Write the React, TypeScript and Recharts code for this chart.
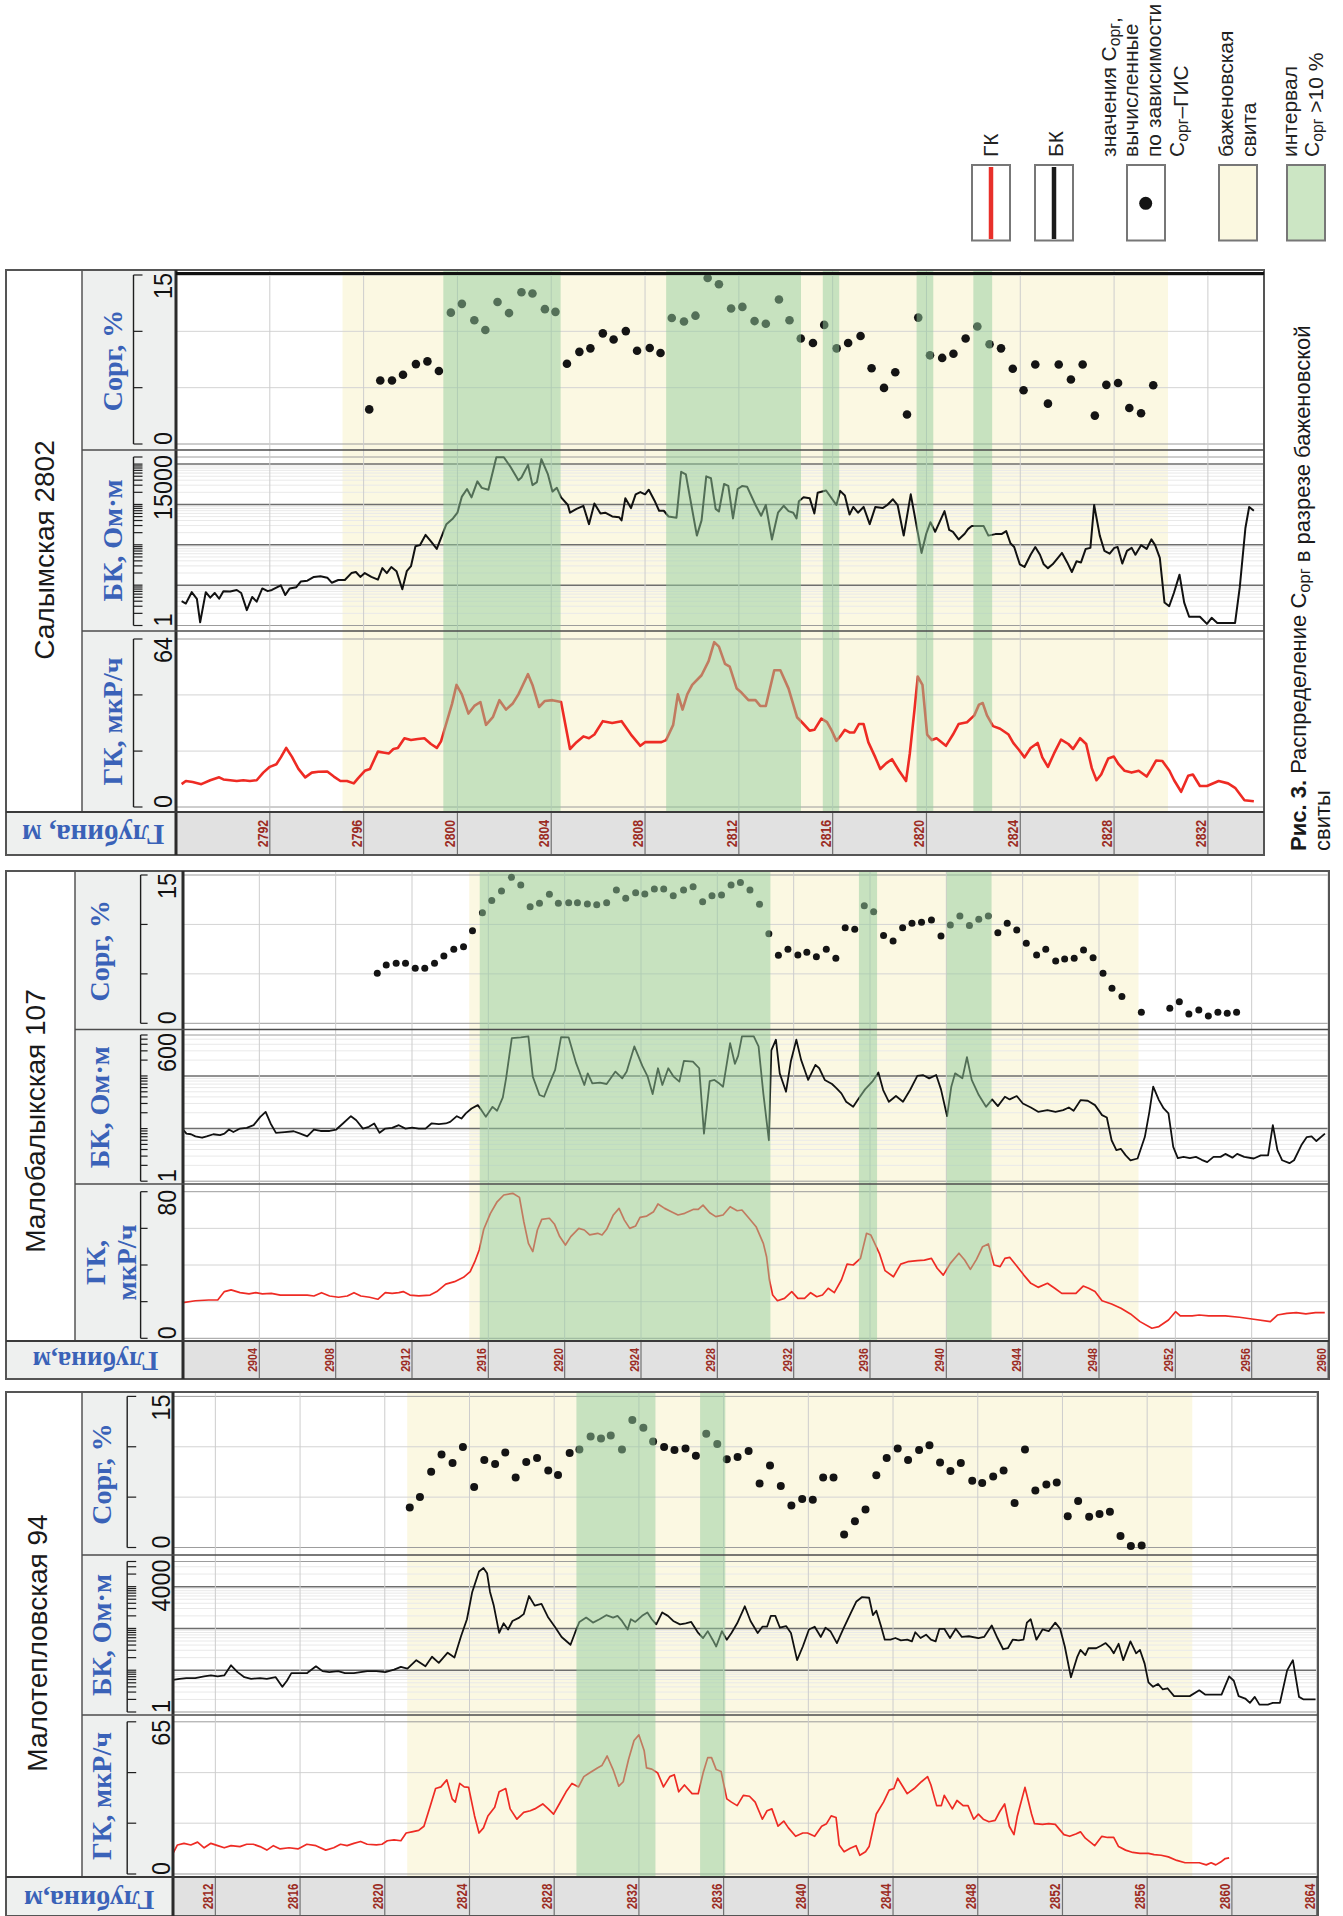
import React from "react";
import {
  Line,
  LineChart,
  ReferenceArea,
  ReferenceLine,
  Scatter,
  ScatterChart,
  XAxis,
  YAxis,
} from "recharts";

type Pt = [number, number]; // [depth, value]
type Rows = [number, number, number, number]; // track top, track bottom, y of max, y of min

const BLUE = "#3a62b8";
const SERIF = "'Liberation Serif', 'Times New Roman', serif";
const SANS = "'Liberation Sans', Arial, sans-serif";
const YELLOW = "#fbf8e2";
const GREEN = "rgb(148,204,156)";

// ---------- Салымская 2802 ----------
const salymDepthTicks = [2792, 2796, 2800, 2804, 2808, 2812, 2816, 2820, 2824, 2828, 2832];
const salymBazhenov: Pt = [2795.1, 2830.3];
const salymRich: Pt[] = [[2799.4, 2804.4], [2808.9, 2814.65], [2815.58, 2816.28], [2819.58, 2820.29], [2822.0, 2822.8]];
const salymCorg: Pt[] = [
  [2796.24, 3.07], [2796.71, 5.63], [2797.21, 5.63], [2797.68, 6.14], [2798.23, 7.09], [2798.72, 7.33], [2799.21, 6.48],
  [2799.72, 11.66], [2800.19, 12.44], [2800.72, 10.98], [2801.19, 10.12], [2801.71, 12.61], [2802.2, 11.62], [2802.73, 13.47],
  [2803.2, 13.36], [2803.73, 11.97], [2804.18, 11.73], [2804.67, 7.12], [2805.2, 8.18], [2805.67, 8.49], [2806.2, 9.82],
  [2806.66, 9.27], [2807.18, 10.02], [2807.66, 8.28], [2808.2, 8.52], [2808.66, 8.08], [2809.14, 11.18], [2809.66, 10.87],
  [2810.15, 11.39], [2810.67, 14.73], [2811.15, 14.18], [2811.67, 12.03], [2812.15, 12.17], [2812.67, 10.91], [2813.15, 10.67],
  [2813.71, 12.82], [2814.16, 10.98], [2814.64, 9.37], [2815.16, 8.97], [2815.64, 10.57], [2816.17, 8.49], [2816.66, 8.97],
  [2817.19, 9.58], [2817.66, 6.72], [2818.19, 4.98], [2818.67, 6.37], [2819.17, 2.62], [2819.65, 11.22], [2820.15, 7.87],
  [2820.67, 7.64], [2821.15, 8.01], [2821.67, 9.37], [2822.17, 10.43], [2822.69, 8.86], [2823.18, 8.49], [2823.68, 6.68],
  [2824.14, 4.77], [2824.64, 7.06], [2825.18, 3.58], [2825.64, 7.06], [2826.16, 5.73], [2826.66, 7.06], [2827.18, 2.52],
  [2827.67, 5.25], [2828.17, 5.42], [2828.65, 3.2], [2829.15, 2.73], [2829.67, 5.22],
];
const salymBk: Pt[] = [
  [2788.24, 4.0], [2788.42, 3.5], [2788.67, 6.7], [2788.89, 4.6], [2789.03, 1.2], [2789.27, 6.7], [2789.46, 4.9], [2789.65, 6.4],
  [2789.84, 4.6], [2790.02, 7.1], [2790.31, 7.0], [2790.59, 7.6], [2790.78, 6.4], [2791.02, 2.4], [2791.25, 5.1], [2791.44, 3.9],
  [2791.68, 8.3], [2791.91, 7.1], [2792.09, 7.6], [2792.47, 9.9], [2792.66, 5.7], [2792.85, 8.3], [2793.13, 8.9], [2793.32, 12.3],
  [2793.6, 12.9], [2793.88, 16], [2794.16, 16.7], [2794.45, 15.3], [2794.64, 11.5], [2794.92, 13.4], [2795.2, 13.4], [2795.48, 19.9],
  [2795.67, 21.2], [2795.86, 16], [2796.05, 19.9], [2796.33, 16], [2796.61, 13.7], [2796.8, 26.4], [2796.99, 19.9], [2797.18, 28.2],
  [2797.4, 22.2], [2797.65, 7.9], [2797.84, 22.2], [2798.02, 29.5], [2798.21, 91.6], [2798.4, 98], [2798.64, 176], [2798.87, 122],
  [2799.12, 79], [2799.34, 169], [2799.53, 325], [2799.81, 451], [2800.0, 625], [2800.19, 1565], [2800.41, 2420], [2800.6, 1500],
  [2800.85, 3740], [2801.04, 2580], [2801.32, 2320], [2801.66, 14800], [2801.98, 14800], [2802.26, 8590], [2802.6, 4000],
  [2802.73, 4660], [2803.01, 9570], [2803.2, 3010], [2803.39, 3590], [2803.58, 13300], [2803.86, 5550], [2804.05, 2080],
  [2804.24, 2580], [2804.42, 1500], [2804.71, 968], [2804.8, 625], [2805.08, 778], [2805.37, 926], [2805.61, 325], [2805.84, 1057],
  [2806.1, 598], [2806.3, 625], [2806.6, 503], [2806.9, 481], [2807.0, 404], [2807.16, 1433], [2807.4, 813], [2807.6, 1783],
  [2807.8, 2032], [2808.0, 1783], [2808.16, 2320], [2808.4, 1259], [2808.6, 698], [2808.8, 698], [2809.0, 503], [2809.34, 471],
  [2809.54, 6460], [2809.74, 5550], [2810.21, 169], [2810.41, 404], [2810.61, 4980], [2810.81, 4460], [2811.01, 778],
  [2811.15, 668], [2811.37, 3210], [2811.55, 2880], [2811.75, 451], [2811.95, 2420], [2812.15, 2880], [2812.35, 2760],
  [2812.71, 968], [2812.95, 525], [2813.15, 968], [2813.41, 136], [2813.67, 625], [2813.91, 926], [2814.12, 683], [2814.32, 625],
  [2814.46, 451], [2814.56, 1205], [2814.76, 1500], [2815.02, 1433], [2815.22, 598], [2815.36, 1945], [2815.72, 2220],
  [2816.16, 968], [2816.32, 2170], [2816.52, 1670], [2816.72, 561], [2816.88, 868], [2817.08, 625], [2817.32, 868], [2817.58, 325],
  [2817.82, 868], [2818.13, 813], [2818.33, 968], [2818.57, 1343], [2818.77, 968], [2819.03, 169], [2819.33, 1783], [2819.79, 63],
  [2819.99, 188], [2820.17, 363], [2820.37, 210], [2820.77, 683], [2820.97, 234], [2821.13, 210], [2821.37, 136], [2821.63, 188],
  [2821.77, 245], [2821.93, 291], [2822.24, 291], [2822.44, 291], [2822.64, 169], [2822.94, 184], [2823.2, 184], [2823.4, 219],
  [2823.58, 109], [2823.74, 88], [2823.98, 32.9], [2824.18, 28.2], [2824.44, 56.7], [2824.64, 88], [2824.84, 56.7], [2825.0, 32.9],
  [2825.18, 26.4], [2825.38, 32.9], [2825.78, 63], [2826.0, 36.6], [2826.2, 21.2], [2826.4, 39.1], [2826.59, 36.6], [2826.79, 79],
  [2826.99, 84], [2827.15, 968], [2827.39, 169], [2827.59, 70.5], [2827.81, 60.5], [2828.01, 84], [2828.15, 88], [2828.35, 34.3],
  [2828.55, 70.5], [2828.75, 84], [2828.91, 56.7], [2829.15, 98], [2829.39, 79], [2829.59, 136], [2829.75, 98], [2829.95, 47.6],
  [2830.15, 3.7], [2830.35, 3.0], [2830.55, 6.4], [2830.79, 18.2], [2830.99, 3.7], [2831.2, 1.65], [2831.66, 1.65], [2831.96, 1.1],
  [2832.16, 1.55], [2832.4, 1.16], [2833.16, 1.16], [2833.36, 8.9], [2833.6, 261], [2833.76, 868], [2833.96, 698],
];
const salymGk: Pt[] = [
  [2788.24, 8.7], [2788.42, 9.9], [2788.71, 9.5], [2789.08, 8.7], [2789.46, 10.2], [2789.84, 11.3], [2790.02, 10.5], [2790.31, 10.2],
  [2790.59, 9.9], [2790.87, 10.2], [2791.15, 9.9], [2791.44, 10.2], [2791.72, 13.1], [2792.0, 15.3], [2792.28, 16.3], [2792.47, 18.9],
  [2792.7, 22.5], [2792.94, 19.2], [2793.22, 14.5], [2793.51, 11.3], [2793.79, 13.1], [2794.07, 13.4], [2794.45, 13.5], [2794.73, 11.6],
  [2795.01, 9.9], [2795.29, 9.9], [2795.58, 9.0], [2795.76, 10.9], [2796.05, 13.8], [2796.27, 14.5], [2796.61, 21.1], [2796.89, 20.7],
  [2797.08, 20.4], [2797.27, 22.1], [2797.46, 22.5], [2797.74, 26.2], [2798.02, 25.5], [2798.31, 25.9], [2798.59, 26.2], [2798.87, 24.0],
  [2799.12, 22.5], [2799.3, 25.0], [2799.53, 32.0], [2799.77, 39.3], [2799.96, 46.5], [2800.19, 42.9], [2800.47, 35.6], [2800.72, 38.5],
  [2800.98, 40.0], [2801.22, 31.3], [2801.51, 34.2], [2801.79, 40.7], [2802.07, 37.1], [2802.35, 39.3], [2802.6, 42.9], [2802.79, 46.5],
  [2803.01, 50.6], [2803.2, 46.5], [2803.48, 38.1], [2803.73, 40.4], [2804.05, 40.7], [2804.42, 40.0], [2804.8, 22.1], [2805.08, 24.7],
  [2805.37, 26.9], [2805.61, 26.2], [2805.84, 27.6], [2806.2, 32.7], [2806.6, 32.0], [2807.0, 32.7], [2807.4, 27.6], [2807.8, 23.3],
  [2808.0, 24.7], [2808.7, 24.7], [2808.9, 25.5], [2809.2, 31.3], [2809.4, 42.9], [2809.6, 37.1], [2809.8, 42.9], [2810.01, 46.5],
  [2810.41, 50.2], [2810.71, 55.6], [2810.95, 62.8], [2811.15, 61.1], [2811.41, 54.5], [2811.61, 53.5], [2811.91, 45.1], [2812.11, 43.6],
  [2812.41, 40.7], [2812.71, 40.7], [2812.91, 38.5], [2813.15, 38.5], [2813.51, 52.1], [2813.77, 52.1], [2814.12, 45.1], [2814.48, 34.2],
  [2814.72, 32.0], [2815.02, 29.1], [2815.22, 29.4], [2815.52, 33.7], [2815.76, 32.3], [2815.96, 29.1], [2816.16, 25.2], [2816.32, 26.9],
  [2816.52, 29.4], [2816.72, 28.4], [2816.92, 28.4], [2817.12, 31.6], [2817.32, 31.6], [2817.52, 24.7], [2817.82, 18.9], [2818.03, 14.5],
  [2818.29, 16.7], [2818.53, 18.2], [2818.83, 13.8], [2819.13, 9.9], [2819.29, 20.4], [2819.49, 37.1], [2819.63, 49.7], [2819.83, 46.5],
  [2820.03, 27.6], [2820.23, 25.5], [2820.43, 26.2], [2820.83, 23.3], [2821.13, 27.6], [2821.37, 31.6], [2821.73, 32.3], [2822.04, 34.9],
  [2822.24, 39.0], [2822.4, 39.6], [2822.58, 34.9], [2822.84, 30.8], [2823.14, 29.8], [2823.5, 27.6], [2823.7, 24.4], [2823.94, 21.8],
  [2824.18, 18.9], [2824.44, 22.5], [2824.74, 24.4], [2824.94, 18.9], [2825.18, 15.3], [2825.44, 20.4], [2825.74, 25.7], [2826.05, 24.0],
  [2826.25, 22.1], [2826.55, 26.2], [2826.81, 24.0], [2827.05, 14.8], [2827.25, 10.2], [2827.45, 12.4], [2827.75, 18.5], [2827.99, 19.2],
  [2828.19, 16.3], [2828.45, 13.8], [2828.75, 13.1], [2829.05, 13.8], [2829.39, 11.6], [2829.59, 14.5], [2829.79, 17.7], [2830.06, 17.5],
  [2830.36, 13.8], [2830.56, 10.2], [2830.86, 5.8], [2831.16, 11.9], [2831.36, 12.4], [2831.66, 8.0], [2831.96, 8.0], [2832.46, 9.9],
  [2832.86, 9.0], [2833.16, 7.3], [2833.56, 2.6], [2833.96, 2.2],
];

// ---------- Малобалыкская 107 ----------
const malobDepthTicks = [2904, 2908, 2912, 2916, 2920, 2924, 2928, 2932, 2936, 2940, 2944, 2948, 2952, 2956, 2960];
const malobBazhenov: Pt = [2915.0, 2950.07];
const malobRich: Pt[] = [[2915.55, 2930.78], [2935.42, 2936.37], [2940.02, 2942.37]];
const malobCorg: Pt[] = [
  [2910.18, 5.06], [2910.65, 5.9], [2911.17, 6.07], [2911.66, 6.07], [2912.17, 5.56], [2912.67, 5.56], [2913.18, 6.07], [2913.67, 6.81],
  [2914.19, 7.48], [2914.7, 7.75], [2915.17, 9.37], [2915.69, 11.19], [2916.18, 12.41], [2916.69, 13.38], [2917.21, 14.77], [2917.7, 13.99],
  [2918.19, 11.8], [2918.68, 12.14], [2919.2, 13.05], [2919.67, 12.14], [2920.21, 12.2], [2920.67, 12.2], [2921.19, 12.07], [2921.68, 12.0],
  [2922.2, 12.2], [2922.71, 13.48], [2923.2, 12.64], [2923.72, 13.21], [2924.2, 13.08], [2924.7, 13.59], [2925.19, 13.59], [2925.69, 12.91],
  [2926.23, 13.48], [2926.73, 13.82], [2927.23, 12.3], [2927.72, 12.91], [2928.22, 12.98], [2928.72, 13.99], [2929.21, 14.23], [2929.71, 13.48],
  [2930.21, 12.03], [2930.7, 9.07], [2931.2, 6.88], [2931.7, 7.48], [2932.22, 6.91], [2932.69, 7.18], [2933.19, 6.74], [2933.71, 7.48],
  [2934.21, 6.57], [2934.7, 9.67], [2935.2, 9.51], [2935.7, 11.9], [2936.19, 11.29], [2936.71, 8.87], [2937.21, 8.33], [2937.71, 9.67],
  [2938.2, 10.11], [2938.7, 10.21], [2939.22, 10.45], [2939.72, 8.83], [2940.21, 9.94], [2940.71, 10.85], [2941.21, 9.88], [2941.7, 10.52],
  [2942.2, 10.85], [2942.7, 9.17], [2943.19, 10.11], [2943.69, 9.44], [2944.19, 8.09], [2944.73, 6.91], [2945.21, 7.48], [2945.73, 6.3],
  [2946.2, 6.51], [2946.7, 6.57], [2947.19, 7.42], [2947.69, 6.64], [2948.21, 5.06], [2948.68, 3.54], [2949.2, 2.7], [2950.22, 1.11],
  [2951.71, 1.52], [2952.21, 2.19], [2952.71, 0.94], [2953.23, 1.35], [2953.73, 0.74], [2954.23, 1.11], [2954.72, 1.01], [2955.21, 1.11],
];
const malobBk: Pt[] = [
  [2900.0, 9.6], [2900.18, 8.0], [2900.42, 7.8], [2900.65, 7.1], [2901.0, 6.7], [2901.24, 7.1], [2901.59, 7.8], [2901.94, 7.5],
  [2902.17, 8.0], [2902.41, 9.6], [2902.64, 8.6], [2902.99, 10.0], [2903.34, 10.3], [2903.7, 11.6], [2904.05, 16.7], [2904.33, 20.8],
  [2904.59, 12.5], [2904.87, 8.3], [2905.33, 8.6], [2905.8, 8.9], [2906.15, 8.0], [2906.51, 7.1], [2906.86, 9.6], [2907.21, 9.0],
  [2907.68, 9.0], [2908.03, 9.6], [2908.38, 12.5], [2908.8, 17.2], [2909.08, 14.4], [2909.43, 10.0], [2909.74, 10.8], [2910.02, 12.5],
  [2910.3, 8.3], [2910.6, 10.0], [2910.96, 10.3], [2911.31, 11.6], [2911.66, 10.0], [2912.01, 10.4], [2912.36, 10.0], [2912.71, 10.0],
  [2913.02, 12.5], [2913.41, 12.1], [2913.77, 12.5], [2914.0, 13.4], [2914.35, 17.2], [2914.59, 15.5], [2914.82, 19.4], [2915.12, 24.1],
  [2915.45, 27.9], [2915.64, 22.4], [2915.87, 16.7], [2916.22, 25.9], [2916.46, 21.8], [2916.76, 39.1], [2916.93, 90], [2917.23, 525],
  [2917.7, 540], [2918.1, 565], [2918.33, 97], [2918.68, 43.4], [2918.92, 40.3], [2919.2, 72.4], [2919.5, 130], [2919.81, 548],
  [2920.21, 540], [2920.6, 175], [2921.03, 67.3], [2921.21, 112], [2921.45, 72.4], [2921.85, 74.6], [2922.2, 70.3], [2922.66, 121],
  [2923.02, 90], [2923.25, 121], [2923.65, 364], [2924.07, 155], [2924.35, 97], [2924.61, 45.3], [2924.89, 140], [2925.12, 67.3],
  [2925.43, 140], [2925.71, 97], [2926.01, 78], [2926.25, 194], [2926.72, 188], [2927.05, 140], [2927.3, 8.0], [2927.6, 80],
  [2927.85, 84], [2928.05, 74.6], [2928.3, 62.5], [2928.67, 421], [2928.92, 170], [2929.09, 241], [2929.29, 565], [2929.91, 565],
  [2930.16, 364], [2930.41, 46.6], [2930.7, 6.0], [2930.83, 305], [2931.07, 488], [2931.27, 112], [2931.6, 50.2], [2931.85, 188],
  [2932.14, 488], [2932.39, 202], [2932.76, 84], [2933.14, 162], [2933.34, 140], [2933.63, 84], [2934.01, 70.3], [2934.25, 58.1],
  [2934.5, 46.6], [2934.75, 32.3], [2935.12, 25.9], [2935.37, 35.8], [2935.74, 55.6], [2936.12, 78], [2936.44, 116], [2936.69, 54],
  [2936.99, 32.3], [2937.36, 41.5], [2937.73, 32.3], [2938.1, 54], [2938.48, 100], [2938.77, 104], [2939.1, 90], [2939.47, 104],
  [2939.72, 55.6], [2940.04, 17.2], [2940.26, 62.5], [2940.46, 112], [2940.84, 90], [2941.08, 227], [2941.33, 84], [2941.7, 43.4],
  [2942.08, 25.9], [2942.4, 35.8], [2942.7, 26.7], [2943.07, 40.3], [2943.32, 35.8], [2943.69, 41.5], [2944.01, 30], [2944.43, 25.2],
  [2944.81, 20.8], [2945.3, 22.4], [2945.72, 20.8], [2946.12, 22.4], [2946.42, 25.2], [2946.67, 21.8], [2947.04, 34.8], [2947.41, 33.8],
  [2947.79, 27.9], [2948.16, 18.0], [2948.41, 16.2], [2948.66, 6.0], [2948.91, 3.9], [2949.15, 4.1], [2949.4, 3.1], [2949.65, 2.5],
  [2950.02, 2.7], [2950.4, 6.9], [2950.64, 20.8], [2950.84, 62.5], [2951.14, 34.8], [2951.39, 24.1], [2951.64, 19.4], [2951.89, 4.5],
  [2952.13, 2.75], [2952.43, 2.9], [2952.76, 2.75], [2953.08, 2.9], [2953.38, 2.55], [2953.67, 2.3], [2954.0, 2.9], [2954.37, 2.9],
  [2954.62, 3.3], [2954.99, 2.8], [2955.24, 3.3], [2955.61, 2.9], [2956.11, 2.7], [2956.48, 3.1], [2956.86, 3.1], [2957.11, 11.6],
  [2957.35, 3.9], [2957.6, 2.5], [2957.98, 2.2], [2958.22, 2.5], [2958.6, 4.8], [2958.89, 6.9], [2959.14, 7.1], [2959.39, 5.8],
  [2959.84, 8.0],
];
const malobGk: Pt[] = [
  [2900.0, 19.5], [2900.65, 20.5], [2901.35, 20.9], [2901.82, 20.9], [2902.17, 25.5], [2902.52, 26.4], [2902.99, 24.9], [2903.46, 24.2],
  [2903.81, 24.9], [2904.16, 24.2], [2904.63, 24.5], [2905.1, 23.6], [2905.8, 23.6], [2906.51, 23.6], [2906.86, 23.1], [2907.26, 24.9],
  [2907.68, 23.1], [2908.15, 22.4], [2908.61, 23.1], [2908.96, 24.9], [2909.32, 23.1], [2909.78, 22.4], [2910.21, 21.3], [2910.6, 24.9],
  [2910.96, 24.5], [2911.31, 24.9], [2911.54, 25.5], [2911.89, 23.6], [2912.36, 23.1], [2912.95, 23.6], [2913.3, 25.5], [2913.77, 29.6],
  [2914.23, 30.9], [2914.7, 33.3], [2915.05, 36.4], [2915.29, 41.8], [2915.52, 48.2], [2915.76, 59.5], [2916.11, 68.2], [2916.46, 74.5],
  [2916.81, 78.2], [2917.28, 79.1], [2917.63, 76.9], [2917.86, 63.6], [2918.1, 51.8], [2918.33, 47.3], [2918.57, 59.1], [2918.8, 64.9],
  [2919.2, 65.5], [2919.46, 62.4], [2919.74, 55.5], [2920.04, 50.9], [2920.32, 55.5], [2920.74, 60.0], [2921.03, 59.1], [2921.31, 56.4],
  [2921.73, 57.3], [2921.96, 56.4], [2922.2, 59.5], [2922.55, 67.3], [2922.85, 70.9], [2923.13, 64.5], [2923.41, 60.0], [2923.72, 61.3],
  [2923.95, 66.0], [2924.3, 66.7], [2924.66, 69.1], [2924.89, 73.3], [2925.24, 70.9], [2925.59, 69.1], [2925.94, 67.3], [2926.29, 68.2],
  [2926.76, 70.4], [2927.0, 70.4], [2927.25, 72.7], [2927.6, 68.5], [2927.92, 66.4], [2928.3, 67.3], [2928.67, 71.8], [2929.04, 69.6],
  [2929.29, 70.0], [2929.66, 65.5], [2930.03, 60.9], [2930.41, 51.8], [2930.58, 44.5], [2930.73, 31.8], [2930.9, 23.6], [2931.15, 20.5],
  [2931.52, 21.8], [2931.9, 25.5], [2932.22, 21.8], [2932.57, 21.8], [2932.89, 24.9], [2933.21, 22.7], [2933.51, 23.6], [2933.81, 27.3],
  [2934.13, 24.9], [2934.5, 31.8], [2934.8, 40.5], [2935.12, 40.0], [2935.5, 43.6], [2935.82, 57.3], [2936.04, 56.4], [2936.49, 46.4],
  [2936.79, 36.9], [2937.23, 33.6], [2937.61, 40.5], [2937.98, 41.8], [2938.48, 42.4], [2938.85, 42.7], [2939.22, 43.6], [2939.52, 38.2],
  [2939.84, 34.5], [2940.21, 40.9], [2940.66, 46.4], [2940.96, 42.7], [2941.26, 37.6], [2941.58, 43.1], [2941.9, 50.0], [2942.2, 51.5],
  [2942.5, 40.0], [2942.82, 39.1], [2943.07, 43.6], [2943.32, 44.2], [2943.69, 39.5], [2944.06, 34.5], [2944.43, 30.0], [2944.81, 27.8],
  [2945.3, 30.0], [2945.68, 27.3], [2946.05, 24.5], [2946.42, 24.5], [2946.79, 24.5], [2947.17, 28.5], [2947.46, 27.3], [2947.79, 25.5],
  [2948.16, 20.5], [2948.66, 18.7], [2949.15, 16.4], [2949.65, 13.3], [2950.15, 9.1], [2950.77, 5.5], [2951.14, 6.4], [2951.64, 10.0],
  [2952.01, 14.5], [2952.26, 12.2], [2952.88, 12.2], [2953.25, 12.7], [2953.75, 12.2], [2954.62, 12.2], [2955.36, 11.5], [2956.11, 10.4],
  [2956.98, 9.1], [2957.35, 12.7], [2957.84, 13.6], [2958.34, 14.0], [2958.84, 13.3], [2959.34, 14.0], [2959.83, 14.0],
];

// ---------- Малотепловская 94 ----------
const maltDepthTicks = [2812, 2816, 2820, 2824, 2828, 2832, 2836, 2840, 2844, 2848, 2852, 2856, 2860, 2864];
const maltBazhenov: Pt = [2821.06, 2858.13];
const maltRich: Pt[] = [[2829.05, 2832.78], [2834.89, 2836.08]];
const maltCorg: Pt[] = [
  [2821.18, 3.97], [2821.66, 5.02], [2822.19, 7.53], [2822.68, 9.23], [2823.2, 8.38], [2823.69, 9.98], [2824.22, 6.01], [2824.7, 8.69],
  [2825.21, 8.28], [2825.69, 9.44], [2826.18, 6.96], [2826.68, 8.49], [2827.19, 8.89], [2827.72, 7.64], [2828.18, 7.2], [2828.73, 9.37],
  [2829.19, 9.74], [2829.72, 11.03], [2830.21, 10.83], [2830.67, 11.13], [2831.2, 9.74], [2831.69, 12.66], [2832.21, 11.88], [2832.67, 10.52],
  [2833.19, 9.98], [2833.68, 9.67], [2834.2, 9.84], [2834.69, 9.1], [2835.18, 11.3], [2835.7, 10.28], [2836.15, 8.76], [2836.66, 8.99],
  [2837.18, 9.57], [2837.7, 6.35], [2838.19, 8.15], [2838.7, 6.11], [2839.2, 4.17], [2839.71, 4.82], [2840.21, 4.75], [2840.7, 6.96],
  [2841.19, 6.96], [2841.69, 1.29], [2842.2, 2.61], [2842.7, 3.77], [2843.21, 7.16], [2843.7, 8.89], [2844.22, 9.84], [2844.71, 8.69],
  [2845.23, 9.67], [2845.72, 10.15], [2846.22, 8.45], [2846.71, 7.6], [2847.2, 8.38], [2847.74, 6.62], [2848.21, 6.41], [2848.73, 7.06],
  [2849.22, 7.64], [2849.74, 4.41], [2850.23, 9.74], [2850.72, 5.67], [2851.24, 6.25], [2851.73, 6.45], [2852.25, 3.09], [2852.74, 4.62],
  [2853.26, 3.05], [2853.75, 3.33], [2854.24, 3.56], [2854.74, 1.15], [2855.23, 0.14], [2855.74, 0.2],
];
const maltBk: Pt[] = [
  [2810.0, 5.9], [2810.31, 6.2], [2810.63, 6.5], [2811.05, 6.5], [2811.47, 7.1], [2811.79, 7.5], [2812.11, 7.1], [2812.42, 7.5],
  [2812.74, 13.1], [2813.05, 9.0], [2813.37, 6.8], [2813.69, 6.2], [2814.11, 6.5], [2814.43, 6.2], [2814.85, 6.8], [2815.16, 4.0],
  [2815.38, 5.6], [2815.59, 8.5], [2815.9, 8.5], [2816.32, 8.5], [2816.75, 12.4], [2817.06, 9.5], [2817.38, 9.0], [2817.8, 9.5],
  [2818.12, 8.5], [2818.54, 8.5], [2818.86, 9.0], [2819.17, 9.5], [2819.6, 9.5], [2820.02, 9.0], [2820.44, 10.3], [2820.76, 12.0],
  [2821.07, 10.9], [2821.49, 17.4], [2821.92, 12.4], [2822.23, 21.0], [2822.55, 15.0], [2822.97, 26.3], [2823.29, 20.2], [2823.6, 65],
  [2823.88, 166], [2824.13, 747], [2824.45, 2310], [2824.66, 2790], [2824.83, 2100], [2824.97, 747], [2825.14, 366], [2825.4, 78],
  [2825.61, 133], [2825.82, 94.5], [2826.03, 151], [2826.35, 182], [2826.56, 220], [2826.81, 597], [2827.08, 352], [2827.4, 387],
  [2827.72, 182], [2828.03, 110], [2828.35, 62.5], [2828.77, 40.6], [2828.98, 78], [2829.19, 143], [2829.51, 182], [2829.83, 138],
  [2830.14, 166], [2830.46, 208], [2830.78, 182], [2830.99, 200], [2831.2, 151], [2831.47, 94.5], [2831.62, 166], [2831.83, 143],
  [2832.15, 200], [2832.4, 242], [2832.61, 166], [2832.82, 125], [2833.1, 242], [2833.37, 200], [2833.62, 151], [2833.94, 125],
  [2834.21, 133], [2834.47, 143], [2834.8, 78], [2835.03, 59], [2835.25, 86], [2835.48, 53.8], [2835.65, 36.9], [2835.92, 86],
  [2836.15, 53.8], [2836.37, 78], [2836.64, 133], [2837.0, 339], [2837.27, 151], [2837.61, 78], [2837.83, 110], [2838.05, 110],
  [2838.23, 200], [2838.44, 200], [2838.66, 104], [2838.95, 114], [2839.18, 78], [2839.47, 17.4], [2839.74, 36.9], [2840.03, 94.5],
  [2840.3, 110], [2840.59, 62.5], [2840.81, 104], [2841.04, 86], [2841.35, 44.6], [2841.64, 94.5], [2841.98, 220], [2842.27, 442],
  [2842.54, 564], [2842.87, 543], [2843.05, 208], [2843.21, 266], [2843.43, 114], [2843.61, 53.8], [2843.88, 53.8], [2844.11, 59],
  [2844.37, 51.8], [2844.67, 53.8], [2844.89, 49], [2845.05, 81], [2845.3, 59], [2845.56, 71], [2845.79, 53.8], [2846.01, 49],
  [2846.19, 98], [2846.42, 98], [2846.69, 59], [2846.96, 98], [2847.25, 62.5], [2847.58, 65], [2848.03, 59], [2848.3, 62.5],
  [2848.66, 118], [2848.93, 59], [2849.2, 31.8], [2849.42, 33.6], [2849.65, 53.8], [2849.94, 51.8], [2850.16, 53.8], [2850.32, 138],
  [2850.5, 166], [2850.77, 53.8], [2851.06, 94.5], [2851.35, 86], [2851.66, 138], [2851.89, 98], [2852.11, 36.9], [2852.4, 6.8],
  [2852.7, 21.0], [2852.85, 30.6], [2853.08, 23.1], [2853.23, 33.6], [2853.59, 33.6], [2853.82, 38.4], [2854.04, 44.6], [2854.27, 33.6],
  [2854.42, 25.4], [2854.65, 42.9], [2854.87, 17.4], [2855.21, 49], [2855.48, 25.4], [2855.66, 30.6], [2855.88, 14.4], [2856.06, 5.1],
  [2856.28, 4.0], [2856.51, 4.7], [2856.73, 3.5], [2856.96, 3.7], [2857.27, 2.4], [2858.01, 2.4], [2858.46, 3.3], [2858.75, 2.6],
  [2859.51, 2.6], [2859.87, 7.1], [2860.09, 5.6], [2860.32, 2.4], [2860.63, 2.1], [2860.85, 1.66], [2861.08, 2.3], [2861.3, 1.5],
  [2861.7, 1.5], [2861.93, 1.66], [2862.27, 1.66], [2862.61, 9.9], [2862.88, 17.4], [2863.17, 2.3], [2863.39, 2.0], [2863.95, 2.0],
];
const maltGk: Pt[] = [
  [2810.0, 8.8], [2810.21, 12.4], [2810.52, 13.1], [2810.84, 12.4], [2811.16, 13.6], [2811.47, 11.2], [2811.79, 13.1], [2812.11, 12.1],
  [2812.42, 11.2], [2812.74, 12.1], [2813.16, 11.7], [2813.48, 12.7], [2813.79, 12.7], [2814.11, 11.7], [2814.43, 10.2], [2814.74, 12.1],
  [2815.06, 10.7], [2815.48, 11.2], [2815.9, 10.7], [2816.32, 12.7], [2816.75, 12.1], [2817.21, 10.2], [2817.59, 11.2], [2817.91, 12.7],
  [2818.22, 12.1], [2818.54, 13.1], [2818.86, 13.9], [2819.17, 12.7], [2819.6, 12.4], [2819.87, 12.7], [2820.12, 14.2], [2820.44, 14.6],
  [2820.76, 14.2], [2821.01, 17.5], [2821.28, 18.0], [2821.6, 18.6], [2821.85, 20.4], [2822.13, 28.5], [2822.4, 36.5], [2822.65, 37.2],
  [2822.93, 40.2], [2823.18, 32.1], [2823.33, 30.7], [2823.54, 38.7], [2823.75, 37.2], [2823.96, 37.0], [2824.24, 24.8], [2824.45, 17.5],
  [2824.66, 19.7], [2824.87, 24.8], [2825.19, 28.5], [2825.4, 35.1], [2825.71, 36.5], [2825.92, 27.8], [2826.24, 23.4], [2826.56, 26.3],
  [2826.87, 27.0], [2827.08, 27.8], [2827.46, 29.9], [2827.72, 27.8], [2827.97, 25.6], [2828.24, 29.9], [2828.56, 35.1], [2828.84, 38.7],
  [2829.15, 37.2], [2829.4, 41.6], [2829.66, 43.1], [2830.04, 45.3], [2830.25, 46.3], [2830.5, 50.4], [2830.78, 44.6], [2831.05, 37.5],
  [2831.26, 39.4], [2831.51, 48.9], [2831.77, 57.0], [2832.0, 59.4], [2832.25, 52.6], [2832.36, 45.3], [2832.61, 44.8], [2832.89, 43.1],
  [2833.16, 37.2], [2833.46, 41.6], [2833.67, 42.4], [2833.88, 35.1], [2834.15, 38.0], [2834.51, 34.3], [2834.8, 34.3], [2835.03, 43.1],
  [2835.25, 49.7], [2835.43, 49.7], [2835.65, 44.6], [2835.88, 43.8], [2836.15, 32.1], [2836.37, 30.7], [2836.64, 29.2], [2836.93, 33.6],
  [2837.22, 33.2], [2837.49, 30.7], [2837.83, 23.4], [2838.05, 27.0], [2838.28, 27.8], [2838.57, 20.4], [2838.84, 22.6], [2839.06, 19.7],
  [2839.4, 16.1], [2839.74, 17.5], [2839.96, 17.5], [2840.3, 16.1], [2840.63, 20.4], [2840.86, 21.5], [2841.08, 24.8], [2841.31, 24.1],
  [2841.46, 12.4], [2841.69, 9.5], [2841.98, 11.0], [2842.25, 12.1], [2842.43, 8.0], [2842.7, 9.5], [2842.87, 11.7], [2843.21, 25.6],
  [2843.55, 30.7], [2843.82, 35.8], [2844.04, 36.5], [2844.22, 40.9], [2844.67, 34.3], [2845.0, 36.5], [2845.34, 39.4], [2845.63, 41.6],
  [2845.79, 38.0], [2846.06, 29.2], [2846.28, 29.2], [2846.42, 33.6], [2846.8, 27.8], [2847.02, 31.4], [2847.31, 29.2], [2847.54, 29.2],
  [2847.81, 23.4], [2848.03, 25.6], [2848.26, 23.4], [2848.53, 22.3], [2848.82, 22.9], [2849.04, 26.7], [2849.27, 29.9], [2849.49, 20.4],
  [2849.71, 16.8], [2849.87, 24.8], [2850.23, 37.0], [2850.54, 25.6], [2850.68, 21.5], [2851.06, 21.2], [2851.35, 21.5], [2851.66, 21.2],
  [2852.07, 16.8], [2852.34, 16.1], [2852.63, 17.1], [2852.85, 18.0], [2853.08, 15.3], [2853.52, 12.1], [2853.86, 16.1], [2854.13, 15.6],
  [2854.42, 15.6], [2854.65, 11.7], [2854.98, 10.2], [2855.32, 9.2], [2855.66, 8.8], [2856.06, 8.8], [2856.33, 8.3], [2856.66, 8.0],
  [2857.0, 7.3], [2857.4, 5.8], [2857.79, 4.8], [2858.46, 4.8], [2858.79, 3.9], [2859.02, 4.8], [2859.24, 3.9], [2859.47, 5.1],
  [2859.69, 6.6], [2859.87, 6.9],
];

// axis ticks
const corgTicks = [0, 5, 10, 15];
const bkSteps = [1, 2, 3, 4, 5, 6, 7, 8, 9];

type Kind = "corg" | "bk" | "gk";
type Well = {
  name: string; nameX: number; nameY: number;
  left: number; top: number; right: number; bottom: number;
  nameRight: number; labelRight: number; plotRight: number;
  domain: [number, number];
  depthTicks: number[];
  bazhenov: Pt; rich: Pt[];
  corg: Pt[]; bk: Pt[]; gk: Pt[];
  bkMax: number; bkDecades: number[]; gkTicks: number[];
  rows: Record<Kind, Rows>; stripTop: number;
  lay: { title: number; gkTitle: string[]; gkTitleX: number[]; bracket: number; tickLen: number; num: number };
  lw: { gk: number; bk: number; dot: number };
  depthTitle: string; depthTitleAt: [number, number]; depthTitleSize: number; depthFont: number;
  topRule?: boolean;
};

const wells: Well[] = [
  {
    name: "Салымская 2802", nameX: 53.5, nameY: 550,
    left: 6, top: 270, right: 1264, bottom: 855, nameRight: 82, labelRight: 176, plotRight: 1263,
    domain: [2788, 2834.35], depthTicks: salymDepthTicks, bazhenov: salymBazhenov, rich: salymRich,
    corg: salymCorg, bk: salymBk, gk: salymGk,
    bkMax: 15000, bkDecades: [1, 10, 100, 1000, 10000], gkTicks: [0, 21.3, 42.7, 64],
    rows: { corg: [271, 450, 275, 444], bk: [450, 631, 457, 625.5], gk: [631, 812, 639, 807] }, stripTop: 812,
    lay: { title: 40, gkTitle: ["ГК, мкР/ч"], gkTitleX: [40], bracket: 51.5, tickLen: 9, num: 90 },
    lw: { gk: 2.6, bk: 2.0, dot: 4.3 },
    depthTitle: "Глубина, м", depthTitleAt: [93, 834], depthTitleSize: 29, depthFont: 15, topRule: true,
  },
  {
    name: "Малобалыкская 107", nameX: 44.6, nameY: 1121,
    left: 6, top: 871, right: 1329, bottom: 1379, nameRight: 75, labelRight: 183, plotRight: 1328,
    domain: [2900, 2960], depthTicks: malobDepthTicks, bazhenov: malobBazhenov, rich: malobRich,
    corg: malobCorg, bk: malobBk, gk: malobGk,
    bkMax: 600, bkDecades: [1, 10, 100], gkTicks: [0, 20, 40, 60, 80],
    rows: { corg: [872, 1029.5, 875, 1023.3], bk: [1029.5, 1184, 1034.5, 1180.7], gk: [1184, 1341, 1191.7, 1338.3] }, stripTop: 1341,
    lay: { title: 34, gkTitle: ["ГК,", "мкР/ч"], gkTitleX: [30, 61], bracket: 65.6, tickLen: 7, num: 101 },
    lw: { gk: 1.7, bk: 1.8, dot: 3.5 },
    depthTitle: "Глубина,м", depthTitleAt: [95.5, 1361], depthTitleSize: 27, depthFont: 13,
  },
  {
    name: "Малотепловская 94", nameX: 47, nameY: 1643,
    left: 6, top: 1392, right: 1318, bottom: 1916, nameRight: 82, labelRight: 173, plotRight: 1316.6,
    domain: [2810, 2864], depthTicks: maltDepthTicks, bazhenov: maltBazhenov, rich: maltRich,
    corg: maltCorg, bk: maltBk, gk: maltGk,
    bkMax: 4000, bkDecades: [1, 10, 100, 1000], gkTicks: [0, 21.7, 43.3, 65],
    rows: { corg: [1393, 1555, 1396.4, 1547.5], bk: [1555, 1715, 1561.5, 1712], gk: [1715, 1877, 1721.8, 1874] }, stripTop: 1877,
    lay: { title: 29, gkTitle: ["ГК, мкР/ч"], gkTitleX: [29], bracket: 45.2, tickLen: 9, num: 87.6 },
    lw: { gk: 1.7, bk: 1.8, dot: 4.0 },
    depthTitle: "Глубина,м", depthTitleAt: [89, 1900], depthTitleSize: 28, depthFont: 14,
  },
];

// stretch the value range so the plot fills the whole track height
function trackDomain(rows: Rows, vmin: number, vmax: number, log: boolean): [number, number] {
  const [tt, tb, pt, pb] = rows;
  const a = log ? Math.log10(vmin) : vmin;
  const b = log ? Math.log10(vmax) : vmax;
  const s = (b - a) / (pb - pt);
  const lo = a - (tb - pb) * s;
  const hi = b + (pt - tt) * s;
  return log ? [10 ** lo, 10 ** hi] : [lo, hi];
}

function Track({ w, kind }: { w: Well; kind: Kind }) {
  const rows = w.rows[kind];
  const [tt, tb, pt, pb] = rows;
  const width = w.plotRight - w.nameRight;
  const trackH = tb - tt;
  // the ГК chart also carries the depth axis strip underneath it
  const stripH = kind === "gk" ? w.bottom - w.stripTop : 0;
  const height = trackH + stripH;
  const axisW = w.labelRight - w.nameRight;
  const log = kind === "bk";
  const vmin = log ? 1 : 0;
  const vmax = kind === "corg" ? 15 : log ? w.bkMax : w.gkTicks[w.gkTicks.length - 1];
  const domain = trackDomain(rows, vmin, vmax, log);
  const ticks = kind === "corg"
    ? corgTicks
    : log
      ? [...w.bkDecades.flatMap((dec) => bkSteps.map((s) => dec * s)).filter((v) => v <= w.bkMax), ...(w.bkDecades.some((d) => bkSteps.some((s) => d * s === w.bkMax)) ? [] : [w.bkMax])]
      : w.gkTicks;
  const data = w[kind].map(([d, v]) => ({ d, v }));
  const L = w.lay;

  const tickFn = (p: any) => (
    <line x1={L.bracket} x2={L.bracket + L.tickLen} y1={p.y} y2={p.y} stroke="#1e1e1e" strokeWidth={1.2} />
  );

  const depthTick = (p: any) => {
    const x = p.x;
    const ym = trackH + stripH / 2;
    return (
      <g>
        <line x1={x} x2={x} y1={trackH} y2={height} stroke="#727272" strokeWidth={1.2} />
        <text transform={`translate(${x - 2},${ym}) rotate(-90) scale(0.82,1)`} textAnchor="middle"
          fontFamily={SANS} fontWeight={700} fontSize={w.depthFont} fill="#9b2b23">{p.payload.value}</text>
      </g>
    );
  };

  const titles: [string, number][] = kind === "corg"
    ? [["Сорг, %", L.title]]
    : kind === "bk"
      ? [["БК, Ом·м", L.title]]
      : L.gkTitle.map((t, i) => [t, L.gkTitleX[i]] as [string, number]);

  const labelFn = () => {
    const top = pt - tt;
    const bot = pb - tt;
    const cy = trackH / 2;
    const numStyle = { fontFamily: SANS, fontSize: 26, fill: "#111" };
    return (
      <g>
        <line x1={L.bracket} x2={L.bracket} y1={top} y2={bot} stroke="#1e1e1e" strokeWidth={1.4} />
        <text transform={`translate(${L.num},${top - 2}) rotate(-90) scale(0.9,1)`} textAnchor="end" {...numStyle}>{vmax}</text>
        <text transform={`translate(${L.num},${bot + 1}) rotate(-90) scale(0.9,1)`} textAnchor="start" {...numStyle}>{vmin}</text>
        {titles.map(([t, x]) => (
          <text key={t} transform={`translate(${x},${cy}) rotate(-90)`} textAnchor="middle"
            fontFamily={SERIF} fontWeight={700} fontSize={28} fill={BLUE}>{t}</text>
        ))}
      </g>
    );
  };

  const inner = kind === "corg" ? [5, 10] : log ? ticks.filter((v) => v > vmin && v < vmax) : w.gkTicks.slice(1, -1);

  const xAxis = kind === "gk"
    ? <XAxis key="x" type="number" dataKey="d" domain={w.domain} allowDataOverflow height={stripH}
        ticks={w.depthTicks} interval={0} tickLine={false} axisLine={false} tick={depthTick} />
    : <XAxis key="x" type="number" dataKey="d" domain={w.domain} allowDataOverflow hide />;

  const common = [
    xAxis,
    <YAxis key="y" type="number" dataKey="v" scale={log ? "log" : "linear"} domain={domain} allowDataOverflow
      width={axisW} ticks={ticks} interval={0} tickLine={false} axisLine={false} tick={tickFn} label={labelFn} />,
    <ReferenceArea key="baz" x1={w.bazhenov[0]} x2={w.bazhenov[1]} fill={YELLOW} fillOpacity={1} stroke="none" zIndex={-300} />,
    ...inner.map((v) => {
      const decade = log && w.bkDecades.includes(v);
      return (
        <ReferenceLine key={`h${v}`} y={v} zIndex={-200}
          stroke={log ? (decade ? "#6e6e6e" : "#e9e9e9") : "#d4d4d4"} strokeWidth={decade ? 1.5 : 1} />
      );
    }),
    ...[vmin, vmax].map((v) => <ReferenceLine key={`e${v}`} y={v} stroke="#9c9c9c" strokeWidth={1} zIndex={-200} />),
    ...w.depthTicks.map((d) => <ReferenceLine key={`v${d}`} x={d} stroke="#cdcdcd" strokeWidth={1} zIndex={-200} />),
  ];
  const overlay = w.rich.map(([a, b]) => (
    <ReferenceArea key={`g${a}`} x1={a} x2={b} fill={GREEN} fillOpacity={0.5} stroke="none" zIndex={1500} />
  ));
  const margin = { top: 0, right: 0, bottom: 0, left: 0 };

  return (
    <div style={{ position: "absolute", left: w.nameRight, top: tt }}>
      {kind === "corg" ? (
        <ScatterChart width={width} height={height} margin={margin}>
          {common}
          <Scatter data={data} isAnimationActive={false}
            shape={(p: any) => <circle cx={p.cx} cy={p.cy} r={w.lw.dot} fill="#141414" />} />
          {overlay}
        </ScatterChart>
      ) : (
        <LineChart width={width} height={height} data={data} margin={margin}>
          {common}
          <Line type="linear" dataKey="v" dot={false} activeDot={false} isAnimationActive={false}
            stroke={kind === "gk" ? "#ee2b24" : "#111"} strokeWidth={kind === "gk" ? w.lw.gk : w.lw.bk} strokeLinejoin="round" />
          {overlay}
        </LineChart>
      )}
    </div>
  );
}

function Backdrop({ w }: { w: Well }) {
  return (
    <g>
      <rect x={w.nameRight} y={w.top} width={w.labelRight - w.nameRight} height={w.stripTop - w.top} fill="#eef0ef" />
      <rect x={w.left} y={w.stripTop} width={w.labelRight - w.left} height={w.bottom - w.stripTop} fill="#eef0ef" />
      <rect x={w.labelRight} y={w.stripTop} width={w.right - w.labelRight} height={w.bottom - w.stripTop} fill="#e1e1e1" />
    </g>
  );
}

function Frame({ w }: { w: Well }) {
  const [cx, cy] = w.depthTitleAt;
  return (
    <g>
      <rect x={w.left} y={w.top} width={w.right - w.left} height={w.bottom - w.top} fill="none" stroke="#555" strokeWidth={2} />
      <line x1={w.nameRight} x2={w.nameRight} y1={w.top} y2={w.stripTop} stroke="#555" strokeWidth={1.5} />
      <line x1={w.labelRight} x2={w.labelRight} y1={w.top} y2={w.bottom} stroke="#2b2b2b" strokeWidth={3} />
      {[w.rows.corg[1], w.rows.bk[1]].map((y) => (
        <line key={y} x1={w.nameRight} x2={w.right} y1={y} y2={y} stroke="#4d4d4d" strokeWidth={1.6} />
      ))}
      <line x1={w.left} x2={w.right} y1={w.stripTop} y2={w.stripTop} stroke="#3a3a3a" strokeWidth={2} />
      {w.topRule && <line x1={w.labelRight} x2={w.right} y1={w.top + 3.5} y2={w.top + 3.5} stroke="#111" strokeWidth={3} />}
      <text transform={`translate(${w.nameX},${w.nameY}) rotate(-90)`} textAnchor="middle"
        fontFamily={SANS} fontSize={28} fill="#1a1a1a">{w.name}</text>
      <text x={cx} y={cy + 9} transform={`rotate(180 ${cx} ${cy})`} textAnchor="middle"
        fontFamily={SERIF} fontWeight={700} fontSize={w.depthTitleSize} fill={BLUE}>{w.depthTitle}</text>
    </g>
  );
}

function Corg({ size }: { size: number }) {
  return (
    <>
      С<tspan fontSize={size * 0.75} dy={size * 0.18}>орг</tspan>
      <tspan dy={-size * 0.18}>{""}</tspan>
    </>
  );
}

function Legend() {
  const fs = 21;
  const t = (x: number, content: React.ReactNode, key: string) => (
    <text key={key} transform={`translate(${x},157) rotate(-90)`} fontFamily={SANS} fontSize={fs} fill="#222">{content}</text>
  );
  const box = (x: number, fill: string) => (
    <rect x={x} y={165} width={38} height={75.5} fill={fill} stroke="#777" strokeWidth={2} />
  );
  return (
    <g>
      {box(972, "#fff")}
      <line x1={991} x2={991} y1={167} y2={239} stroke="#e8302a" strokeWidth={4.5} />
      {box(1035, "#fff")}
      <line x1={1054} x2={1054} y1={167} y2={239} stroke="#1a1a1a" strokeWidth={4.5} />
      {box(1127, "#fff")}
      <circle cx={1145.7} cy={203.3} r={6.5} fill="#141414" />
      {box(1219, "#fbf8e0")}
      {box(1287, "#cce6c4")}
      {t(998, "ГК", "l1")}
      {t(1063, "БК", "l2")}
      {t(1116, <>значения <Corg size={fs} />,</>, "l3")}
      {t(1138, "вычисленные", "l4")}
      {t(1161, "по зависимости", "l5")}
      {t(1184, <><Corg size={fs} />–ГИС</>, "l6")}
      {t(1233, "баженовская", "l7")}
      {t(1256, "свита", "l8")}
      {t(1297, "интервал", "l9")}
      {t(1319, <><Corg size={fs} /> &gt;10 %</>, "l10")}
    </g>
  );
}

function Caption() {
  const fs = 22;
  return (
    <g fontFamily={SANS} fontSize={fs} fill="#1a1a1a">
      <text transform="translate(1306,851) rotate(-90)">
        <tspan fontWeight={700}>Рис. 3.</tspan> Распределение <Corg size={fs} /> в разрезе баженовской
      </text>
      <text transform="translate(1330,851) rotate(-90)">свиты</text>
    </g>
  );
}

export default function App() {
  return (
    <div style={{ position: "relative", width: 1343, height: 1916, overflow: "hidden", background: "#fff" }}>
      <style>{"body{margin:0}"}</style>
      <svg width={1343} height={1916} style={{ position: "absolute", left: 0, top: 0 }}>
        {wells.map((w) => <Backdrop key={w.name} w={w} />)}
      </svg>
      {wells.map((w) => (
        <React.Fragment key={w.name}>
          <Track w={w} kind="corg" />
          <Track w={w} kind="bk" />
          <Track w={w} kind="gk" />
        </React.Fragment>
      ))}
      <svg width={1343} height={1916} style={{ position: "absolute", left: 0, top: 0, pointerEvents: "none" }}>
        {wells.map((w) => <Frame key={w.name} w={w} />)}
        <Legend />
        <Caption />
      </svg>
    </div>
  );
}
